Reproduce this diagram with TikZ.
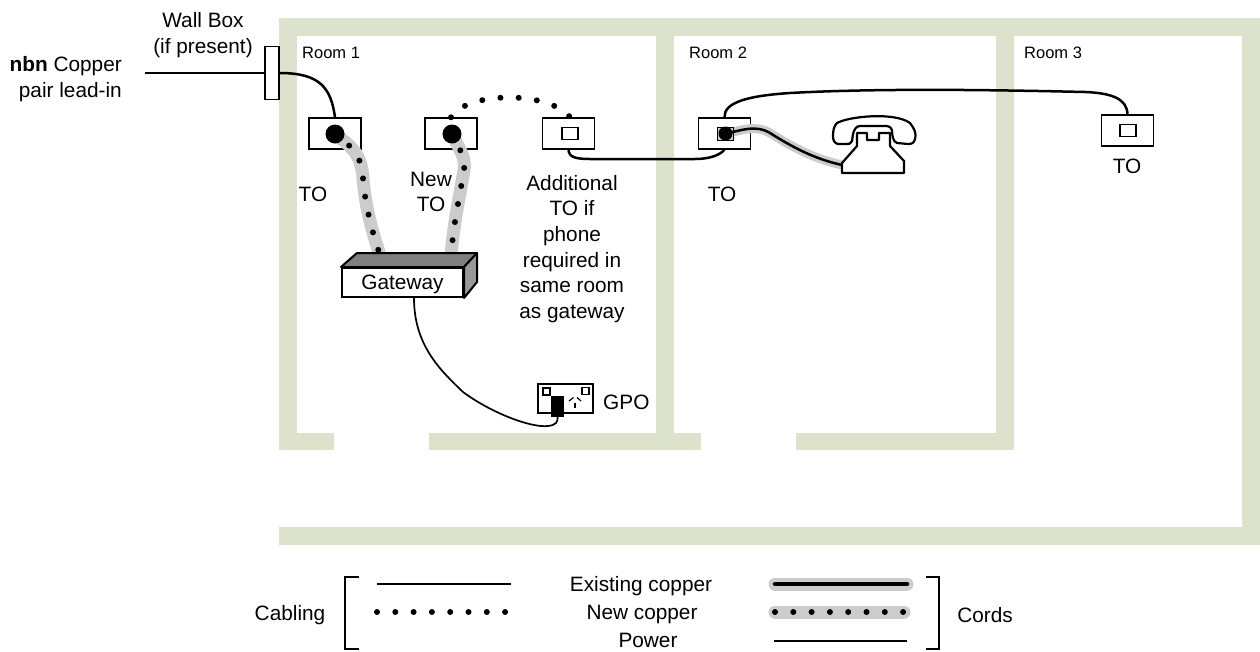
\documentclass[tikz,border=0pt]{standalone}
\usepackage{fontspec}
\setmainfont{Liberation Sans}
\usetikzlibrary{arrows.meta, positioning, calc}
\definecolor{wallgreen}{RGB}{221,226,204}
\definecolor{cordgrey}{RGB}{204,204,204}
\definecolor{gatetop}{RGB}{128,128,128}
\definecolor{gateside}{RGB}{153,153,153}

\begin{document}
\begin{tikzpicture}[
    x=1pt, y=-1pt,
    wall/.style={fill=wallgreen},
    txt/.style={font=\fontsize{20.8}{25.7}\selectfont, align=center, inner sep=0pt},
    roomtxt/.style={font=\fontsize{16.5}{20}\selectfont, anchor=west, inner sep=0pt},
    tobox/.style={draw, line width=1.4pt, fill=white, minimum width=52pt, minimum height=31pt, inner sep=0pt},
    socket/.style={draw, line width=1.4pt, fill=white, minimum width=16pt, minimum height=11.5pt, inner sep=0pt},
    jackdot/.style={circle, fill=black, minimum size=19pt, inner sep=0pt},
    cable/.style={line width=2.5pt},
    powerline/.style={line width=1.7pt},
    dotline/.style={line width=6pt, line cap=round, dash pattern=on 0pt off 18.3pt},
    cordband/.style={line width=13pt, draw=cordgrey},
    bracket/.style={line width=2.8pt}
]
  \useasboundingbox (0,0) rectangle (1260,651);

  % Walls
  \fill[wall] (279,18) rectangle (1260,36);
  \fill[wall] (279,18) rectangle (297,450);
  \fill[wall] (656,36) rectangle (674,450);
  \fill[wall] (996,36) rectangle (1014,450);
  \fill[wall] (1242,18) rectangle (1260,545);
  \fill[wall] (279,527) rectangle (1260,545);
  \fill[wall] (279,433) rectangle (334,450);
  \fill[wall] (429,433) rectangle (701,450);
  \fill[wall] (796,433) rectangle (1014,450);

  \node[roomtxt] (R1) at (302,53) {Room 1};
  \node[roomtxt] (R2) at (689,53) {Room 2};
  \node[roomtxt] (R3) at (1024,53) {Room 3};

  % Outlets
  \node[tobox] (TO1) at (335,133.5) {};
  \node[tobox] (TONew) at (451,133.5) {};
  \node[tobox] (TOAdd) at (568.5,133.5) {};
  \node[tobox] (TO2) at (724.5,133.5) {};
  \node[tobox] (TO3) at (1127.5,130.5) {};
  \node[socket] (SAdd) at (570,133.5) {};
  \node[socket] (S3) at (1128,130.5) {};
  \node[socket, fill=cordgrey, line width=1pt, minimum width=16pt, minimum height=13pt] (S2) at (725.5,133.5) {};
  \coordinate (J1) at (335,134);
  \coordinate (JNew) at (452,134);

  % Gateway
  \node[draw, line width=2pt, fill=white, minimum width=121pt, minimum height=29pt, inner sep=0pt, txt, text depth=0pt] (GW) at (402.5,282.5) {Gateway};
  \coordinate (GWa) at (381,258);
  \coordinate (GWb) at (451,258);

  % Cords to gateway
  \draw[cordband] (J1) .. controls (350,146) and (361,152) .. (363,178) .. controls (365,205) and (372,232) .. (GWa);
  \draw[cordband] (JNew) .. controls (460,150) and (466,158) .. (464,170) .. controls (460,195) and (453,225) .. (GWb);
  \filldraw[fill=gatetop, line width=2pt, line join=round] (GW.north west) -- (357,253) -- (477,253) -- (GW.north east) -- cycle;
  \filldraw[fill=gateside, line width=2pt, line join=round] (GW.north east) -- (477,253) -- (477,282) -- (GW.south east) -- cycle;
  \draw[dotline] (J1) .. controls (350,146) and (361,152) .. (363,178) .. controls (365,205) and (372,232) .. (GWa);
  \draw[dotline] (JNew) .. controls (460,150) and (466,158) .. (464,170) .. controls (460,195) and (453,225) .. (GWb);
  \node[jackdot] (JD1) at (J1) {};
  \node[jackdot] (JDNew) at (JNew) {};

  % Lead-in
  \coordinate (Lead) at (145,73);
  \node[draw, line width=1.5pt, fill=white, minimum width=14pt, minimum height=53pt, inner sep=0pt] (WB) at (272,73) {};
  \draw[cable] (Lead) -- (WB.west);
  \draw[cable] (WB.east) .. controls (320,73) and (331,88) .. (TO1.north);

  % Cables between rooms
  \coordinate (ADot) at (569.5,116.5);
  \draw[dotline] (TONew.north) .. controls (466,92) and (546,90) .. (ADot);
  \draw[cable] (TOAdd.south) .. controls (569,157) and (575,159) .. (590,159) -- (695,159) .. controls (710,159) and (720,155) .. (TO2.south);
  \draw[cable] (TO2.north) .. controls (724,103) and (745,96) .. (790,93) .. controls (880,88) and (1000,90) .. (1085,92) .. controls (1110,93) and (1127,98) .. (TO3.north);

  % Phone
  \coordinate (Ph) at (842,165);
  \draw[cordband, line width=9pt] (S2.center) .. controls (740,131) and (755,124) .. (770,133) .. controls (800,152) and (820,160) .. (Ph);
  \node[socket, fill=cordgrey, line width=1pt, minimum width=16pt, minimum height=13pt] (S2b) at (S2) {};
  \node[jackdot, minimum size=14pt] (JD2) at (S2) {};
  \draw[cable] (JD2.center) .. controls (740,131) and (755,124) .. (770,133) .. controls (800,152) and (820,160) .. (Ph);
  \filldraw[fill=white, line width=2.2pt, line join=round] (837,123) .. controls (850,116) and (895,112) .. (910,123) .. controls (914,128) and (917,134) .. (915,139) .. controls (914,143) and (912,144) .. (908,144) -- (897,143) .. controls (893,142) and (892,135) .. (892,130) .. controls (891,128) and (890,126) .. (887,126) -- (860,126) .. controls (856,126) and (854,130) .. (853,134) -- (852,141) .. controls (851,144) and (849,144) .. (846,144) -- (838,144) .. controls (834,143) and (833,140) .. (833,136) .. controls (833,130) and (834,126) .. (837,123) -- cycle;
  \filldraw[fill=white, line width=2.2pt, line join=round] (842,163) -- (857,146) -- (857,133) -- (867,133) -- (867,140) -- (879,140) -- (879,133) -- (890,133) -- (890,146) -- (904,161) -- (904,173) -- (842,173) -- cycle;

  % GPO
  \node[draw, line width=2.2pt, fill=white, minimum width=55pt, minimum height=29pt, inner sep=0pt] (GPO) at (565.5,398.5) {};
  \node[draw, line width=1.5pt, minimum size=7pt, inner sep=0pt] (GPa) at (546.5,391.5) {};
  \node[draw, line width=1.5pt, minimum size=7pt, inner sep=0pt] (GPb) at (585.5,391) {};
  \node[fill=black, minimum width=13pt, minimum height=21pt, inner sep=0pt] (Plug) at (557.5,406.5) {};
  \draw[line width=1.2pt] (569,401) -- (573.5,397.5);
  \draw[line width=1.2pt] (577,397.5) -- (581,401);
  \draw[line width=1.4pt] (575,403) -- (575,408);
  \draw[powerline] ([xshift=11.5pt]GW.south) .. controls (414,345) and (440,370) .. (463,392) .. controls (490,412) and (530,428) .. (548,426) .. controls (556,425) and (558,422) .. (Plug.south);

  % Labels
  \node[txt] (LWB) at (203,35) {Wall Box\\(if present)};
  \node[txt, align=right, anchor=east] (LNbn) at (122,79) {\textbf{nbn} Copper\\pair lead-in};
  \node[txt] (LTO1) at (313,194) {TO};
  \node[txt] (LNew) at (431,192) {New\\TO};
  \node[txt] (LAdd) at (572,249) {Additional\\TO if\\phone\\required in\\same room\\as gateway};
  \node[txt] (LTO2) at (722,194) {TO};
  \node[txt] (LTO3) at (1127,166) {TO};
  \node[txt, anchor=west] (LGPO) at (603,402) {GPO};

  % Legend
  \node[txt] (LCab) at (290,615) {Cabling};
  \node[txt] (LCor) at (985,615) {Cords};
  \node[txt] (LEx) at (641,586) {Existing copper};
  \node[txt] (LNc) at (642,614) {New copper};
  \node[txt] (LPw) at (648,640.5) {Power};
  \draw[bracket] (359,577) -- (345,577) -- (345,649) -- (359,649);
  \draw[bracket] (926,577) -- (939,577) -- (939,649) -- (926,649);

  \coordinate (A1) at (377,584);
  \coordinate (A2) at (511,584);
  \coordinate (B1) at (377,612);
  \coordinate (B2) at (506,612);
  \coordinate (C1) at (775,584);
  \coordinate (C2) at (907,584);
  \coordinate (D1) at (775,612);
  \coordinate (D2) at (904,612);
  \coordinate (E1) at (774,641);
  \coordinate (E2) at (907,641);
  \draw[cable] (A1) -- (A2);
  \draw[dotline] (B1) -- (B2);
  \draw[cordband, line cap=round] (C1) -- (C2);
  \draw[line width=4.5pt, line cap=round] (C1) -- (C2);
  \draw[cordband, line cap=round] (D1) -- (D2);
  \draw[dotline] (D1) -- (D2);
  \draw[powerline] (E1) -- (E2);
\end{tikzpicture}
\end{document}
